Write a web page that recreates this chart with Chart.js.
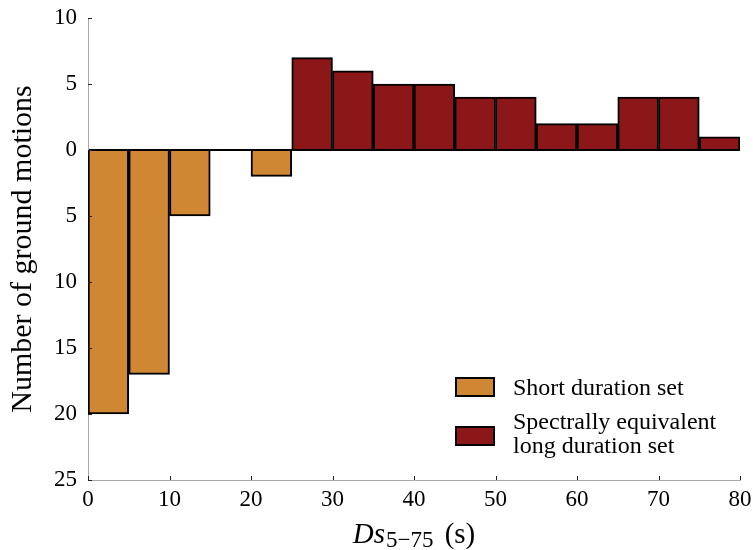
<!DOCTYPE html>
<html><head><meta charset="utf-8">
<script src="https://cdn.jsdelivr.net/npm/chart.js@4/dist/chart.umd.min.js"></script>
<style>html,body{margin:0;padding:0;background:#fff}</style>
</head><body>
<canvas id="c" width="753" height="550"></canvas>
<script>
// ---- data ----
const binEdges = [0,5,10,15,20,25,30,35,40,45,50,55,60,65,70,75,80];
const shortCounts = [20,17,5,0,2,0,0,0,0,0,0,0,0,0,0,0];
const longCounts  = [0,0,0,0,0,7,6,5,5,4,4,2,2,4,4,1];
const xTickValues = [0,10,20,30,40,50,60,70,80];
const yTickValues = [-25,-20,-15,-10,-5,0,5,10];
const seriesNames = ['Short duration set', ['Spectrally equivalent','long duration set']];
const seriesColors = ['#CF8734', '#8B1719'];

const FONT = "'Liberation Serif', 'Times New Roman', serif";

function toBars(counts, sign) {
  return counts.map((c, i) => ({ x: (binEdges[i] + binEdges[i+1]) / 2, y: c === 0 ? null : sign * c }));
}

const inwardTicks = {
  id: 'inwardTicks',
  afterDraw(chart) {
    const {ctx, chartArea: a} = chart;
    const xs = chart.scales.x, ys = chart.scales.y;
    ctx.save();
    ctx.strokeStyle = '#222';
    ctx.lineWidth = 1;
    ys.ticks.forEach(t => {
      const y = Math.round(ys.getPixelForValue(t.value)) + 0.5;
      ctx.beginPath(); ctx.moveTo(a.left, y); ctx.lineTo(a.left + 4, y); ctx.stroke();
    });
    xs.ticks.forEach(t => {
      const x = Math.round(xs.getPixelForValue(t.value)) + 0.5;
      ctx.beginPath(); ctx.moveTo(x, a.bottom); ctx.lineTo(x, a.bottom - 4); ctx.stroke();
    });
    ctx.restore();
  }
};

const xTitle = {
  id: 'xTitle',
  afterDraw(chart) {
    const {ctx, chartArea: a} = chart;
    const parts = [
      {t: 'Ds', f: 'italic 29px ' + FONT, dy: 0, gap: 1},
      {t: '5\u221275', f: '23px ' + FONT, dy: 4, gap: 4},
      {t: ' (s)', f: '29px ' + FONT, dy: 0, gap: 0}
    ];
    ctx.save();
    let total = 0;
    parts.forEach(p => { ctx.font = p.f; p.w = ctx.measureText(p.t).width + p.gap; total += p.w; });
    let x = (a.left + a.right) / 2 - total / 2;
    const base = 543;
    ctx.fillStyle = '#000';
    ctx.textBaseline = 'alphabetic';
    ctx.textAlign = 'left';
    parts.forEach(p => { ctx.font = p.f; ctx.fillText(p.t, x, base + p.dy); x += p.w; });
    ctx.restore();
  }
};

const boxLegend = {
  id: 'boxLegend',
  afterDraw(chart) {
    const {ctx, chartArea: a} = chart;
    const bx = a.left + 368, bw = 38, bh = 18;
    const rows = [{top: a.top + 360, lines: seriesNames[0], color: seriesColors[0], base: [a.top + 377]},
                  {top: a.top + 409, lines: seriesNames[1], color: seriesColors[1], base: [a.top + 411, a.top + 435]}];
    ctx.save();
    rows.forEach(r => {
      ctx.fillStyle = r.color;
      ctx.fillRect(bx, r.top, bw, bh);
      ctx.strokeStyle = '#000'; ctx.lineWidth = 2;
      ctx.strokeRect(bx, r.top, bw, bh);
      ctx.fillStyle = '#000';
      ctx.font = '24px ' + FONT;
      ctx.textAlign = 'left'; ctx.textBaseline = 'alphabetic';
      const lines = Array.isArray(r.lines) ? r.lines : [r.lines];
      lines.forEach((ln, i) => ctx.fillText(ln, a.left + 425, r.base[i]));
    });
    ctx.restore();
  }
};

new Chart(document.getElementById('c'), {
  type: 'bar',
  data: {
    datasets: [
      { label: 'Short duration set', data: toBars(shortCounts, -1), backgroundColor: seriesColors[0],
        borderColor: '#000', borderWidth: 2, barPercentage: 1, categoryPercentage: 1 },
      { label: 'Spectrally equivalent long duration set', data: toBars(longCounts, 1), backgroundColor: seriesColors[1],
        borderColor: '#000', borderWidth: 2, barPercentage: 1, categoryPercentage: 1 }
    ]
  },
  options: {
    responsive: false,
    animation: false,
    devicePixelRatio: 1,
    layout: { padding: { top: 18, right: 13, left: 0, bottom: 0 } },
    plugins: { legend: { display: false }, tooltip: { enabled: false } },
    scales: {
      x: {
        type: 'linear', stacked: true, offset: false, min: 0, max: 80,
        grid: { display: false, offset: false, drawTicks: false },
        border: { display: true, color: '#a8a8a8', width: 1 },
        afterBuildTicks(s) { s.ticks = xTickValues.map(v => ({value: v})); },
        ticks: { color: '#000', font: { family: FONT, size: 23 }, padding: 6, maxRotation: 0,
                 callback: v => String(v) },
        afterFit(s) { s.height = 70; s.paddingLeft = 0; s.paddingRight = 0; }
      },
      y: {
        type: 'linear', stacked: true, min: -25, max: 10,
        afterBuildTicks(s) { s.ticks = yTickValues.map(v => ({value: v})); },
        grid: {
          drawTicks: false,
          color: c => (c.tick && c.tick.value === 0) ? '#000' : 'rgba(0,0,0,0)',
          lineWidth: c => (c.tick && c.tick.value === 0) ? 2 : 0
        },
        border: { display: true, color: '#a8a8a8', width: 1 },
        ticks: { color: '#000', font: { family: FONT, size: 23 }, padding: 11,
                 callback: v => String(Math.abs(v)) },
        title: { display: true, text: 'Number of ground motions', color: '#000',
                 font: { family: FONT, size: 30 }, padding: { top: 5, bottom: 0 } },
        afterFit(s) { s.width = 88; s.paddingTop = 0; s.paddingBottom = 0; }
      }
    }
  },
  plugins: [inwardTicks, xTitle, boxLegend]
});
</script>
</body></html>
